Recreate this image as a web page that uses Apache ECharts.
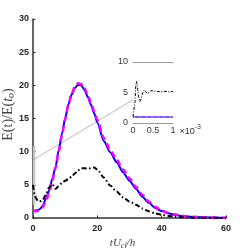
<!DOCTYPE html>
<html><head><meta charset="utf-8">
<script src="https://cdn.jsdelivr.net/npm/echarts@6/dist/echarts.min.js"></script>
<style>html,body{margin:0;padding:0;background:#fff}#c{width:249px;height:249px}</style>
</head><body><div id="c"></div>
<script>
// ---- data ----
const tMain = [0,0.5,1,1.5,2,3,4,5,6,7,8,9,10,11,12,13,14,15,16,17,18,19,20,22,24,26,28,30,32,34,36,38,40,42,44,46,48,50,55,60];
const blueMain = [1.1,1.1,1.15,1.2,1.3,1.8,2.9,4.1,5.9,7.7,10.2,12.7,15.0,17.1,18.6,19.6,20.1,20.0,19.3,18.3,17.1,15.8,14.4,11.6,9.9,8.4,6.9,5.6,4.4,3.2,2.3,1.5,1.05,0.72,0.48,0.32,0.22,0.15,0.07,0.03];
const magentaMain = [1.0,1.0,1.05,1.1,1.2,1.6,2.6,3.8,5.6,7.5,10.0,12.5,14.9,17.1,18.7,19.8,20.3,20.2,19.6,18.6,17.4,16.1,14.8,12.1,10.3,8.8,7.3,6.0,4.7,3.5,2.5,1.7,1.15,0.8,0.55,0.37,0.25,0.17,0.07,0.03];
const blackMain = [5.0,3.6,2.9,2.6,2.5,2.7,3.5,4.6,5.1,4.4,4.8,5.3,5.6,5.9,6.2,6.7,7.2,7.5,7.5,7.4,7.5,7.6,7.3,6.1,4.9,4.0,3.1,2.5,2.0,1.45,1.0,0.7,0.5,0.32,0.2,0.13,0.08,0.05,0.02,0.01];
const tInset = [0,0.03,0.05,0.07,0.09,0.11,0.14,0.17,0.2,0.24,0.28,0.32,0.36,0.4,0.45,0.5,0.6,0.7,0.8,0.9,1.0];
const blackInset = [1,1,3.5,6.2,6.8,6.0,4.3,3.5,3.9,4.9,5.4,5.2,4.8,5.0,5.3,5.1,5.2,5.1,5.2,5.1,5.15];
const tInsetFlat = [0,1];
const blueInset = [1,1];
const magentaInset = [1,1];
const mainXTicks = [0,20,40,60];
const mainYTicks = [0,5,10,15,20,25,30];
const zoomBox = [[0,2],[0.6,10.8]];
const connectorMain = [0,8.75];
const connectorInset = [0,3.8];

const pairs = (xs, ys) => xs.map((x,i)=>[x, ys[i]]);
const tickFont = {fontFamily:'Liberation Sans, Arial', fontSize:9, fontWeight:'bold', color:'#262626'};
const insetFont = {fontFamily:'Liberation Sans, Arial', fontSize:9, color:'#333'};
const serif = 'Liberation Serif, DejaVu Serif';

const chart = echarts.init(document.getElementById('c'), null, {renderer:'canvas'});
chart.setOption({
  animation:false,
  backgroundColor:'#fff',
  grid:[
    {left:33, right:23, top:19, bottom:31, containLabel:false, outerBoundsMode:'none'},
    {left:133, top:62, width:40, height:61, containLabel:false, outerBoundsMode:'none'}
  ],
  xAxis:[
    {gridIndex:0, type:'value', min:mainXTicks[0], max:mainXTicks[mainXTicks.length-1], interval:20,
     axisLine:{lineStyle:{color:'#333', width:1.5}}, axisTick:{inside:true, length:2.5, lineStyle:{color:'#333'}},
     splitLine:{show:false}, axisLabel:Object.assign({margin:6}, tickFont),
     name:'{i|tU}{s|cl}{i|/h}', nameLocation:'middle', nameGap:17,
     nameTextStyle:{padding:[0,14,0,0], rich:{
       i:{fontFamily:serif, fontStyle:'italic', fontSize:11, color:'#444'},
       s:{fontFamily:serif, fontStyle:'italic', fontSize:8, color:'#444', padding:[5,0,0,0]}}}},
    {gridIndex:1, type:'value', min:0, max:1, interval:0.5,
     axisLine:{lineStyle:{color:'#999', width:1}}, axisTick:{show:false}, splitLine:{show:false},
     axisLabel:Object.assign({margin:3, formatter:v=>String(v)}, insetFont),
     name:'{a|×10}{b|-3}', nameLocation:'end', nameGap:3,
     nameTextStyle:{verticalAlign:'top', rich:{
       a:{fontFamily:'Liberation Sans, Arial', fontSize:9, color:'#333', padding:[4,0,0,0]},
       b:{fontFamily:'Liberation Sans, Arial', fontSize:7, color:'#333', padding:[0,0,4,0]}}}},
    {gridIndex:1, type:'value', min:0, max:1, position:'top',
     axisLine:{lineStyle:{color:'#999', width:1}}, axisTick:{show:false}, axisLabel:{show:false}, splitLine:{show:false}}
  ],
  yAxis:[
    {gridIndex:0, type:'value', min:mainYTicks[0], max:mainYTicks[mainYTicks.length-1], interval:5,
     axisLine:{show:true, lineStyle:{color:'#333', width:1.5}}, axisTick:{show:true, inside:true, length:2.5, lineStyle:{color:'#333'}},
     splitLine:{show:false}, axisLabel:{show:false},
     name:'{n|E(t)/E(}{i|t}{s|o}{n|)}', nameLocation:'middle', nameRotate:90, nameGap:17, nameMoveOverlap:false,
     nameTextStyle:{padding:[0,0,0,8], rich:{
       n:{fontFamily:serif, fontSize:14, color:'#444'},
       i:{fontFamily:serif, fontStyle:'italic', fontSize:14, color:'#444'},
       s:{fontFamily:serif, fontStyle:'italic', fontSize:10, color:'#444', padding:[6,0,0,0]}}}},
    {gridIndex:1, type:'value', min:0, max:10, interval:5,
     axisLine:{show:false}, axisTick:{show:false}, splitLine:{show:false},
     axisLabel:Object.assign({margin:5}, insetFont)}
  ],
  series:[
    {type:'line', xAxisIndex:0, yAxisIndex:0, data:pairs(tMain, blueMain), showSymbol:false, smooth:0.25, smoothMonotone:'x',
     lineStyle:{color:'#0000ff', width:2},
     markArea:{silent:true, itemStyle:{color:'#d0d0d0', borderColor:'#aaa', borderWidth:0.5},
       data:[[{coord:zoomBox[0]},{coord:zoomBox[1]}]]}},
    {type:'line', xAxisIndex:0, yAxisIndex:0, data:pairs(tMain, magentaMain), showSymbol:false, smooth:0.25, smoothMonotone:'x',
     lineStyle:{color:'#ff00ff', width:2.5, type:[6,4]}},
    {type:'line', xAxisIndex:0, yAxisIndex:0, data:pairs(tMain, blackMain), showSymbol:false, smooth:0.25, smoothMonotone:'x',
     lineStyle:{color:'#000', width:2, type:[5,2.5,1.5,2.5]}},
    {type:'line', xAxisIndex:1, yAxisIndex:1, data:pairs(tInsetFlat, blueInset), showSymbol:false,
     lineStyle:{color:'#3333ff', width:1.5}},
    {type:'line', xAxisIndex:1, yAxisIndex:1, data:pairs(tInsetFlat, magentaInset), showSymbol:false,
     lineStyle:{color:'#ff44ff', width:1.5, type:[3,3]}},
    {type:'line', xAxisIndex:1, yAxisIndex:1, data:pairs(tInset, blackInset), showSymbol:false,
     lineStyle:{color:'#000', width:1, type:[3,1.5,1,1.5]}}
  ]
});
const p1 = chart.convertToPixel({xAxisIndex:0, yAxisIndex:0}, connectorMain);
const p2 = chart.convertToPixel({xAxisIndex:1, yAxisIndex:1}, connectorInset);
const yLabelGraphics = mainYTicks.map((v, i) => {
  const p = chart.convertToPixel({xAxisIndex:0, yAxisIndex:0}, [mainXTicks[0], v]);
  return {id:'ylab' + i, type:'text', silent:true, x:p[0] - 4, y:p[1], z:10,
    style:{text:String(v), align:'right', verticalAlign:'middle',
      font:'bold 9px "Liberation Sans", Arial', fill:'#262626'}};
});
chart.setOption({
  graphic:[
    {id:'conn', type:'line', silent:true, shape:{x1:p1[0], y1:p1[1], x2:p2[0], y2:p2[1]}, style:{stroke:'#999', lineWidth:0.7}, z:1}
  ].concat(yLabelGraphics)
});
</script></body></html>
